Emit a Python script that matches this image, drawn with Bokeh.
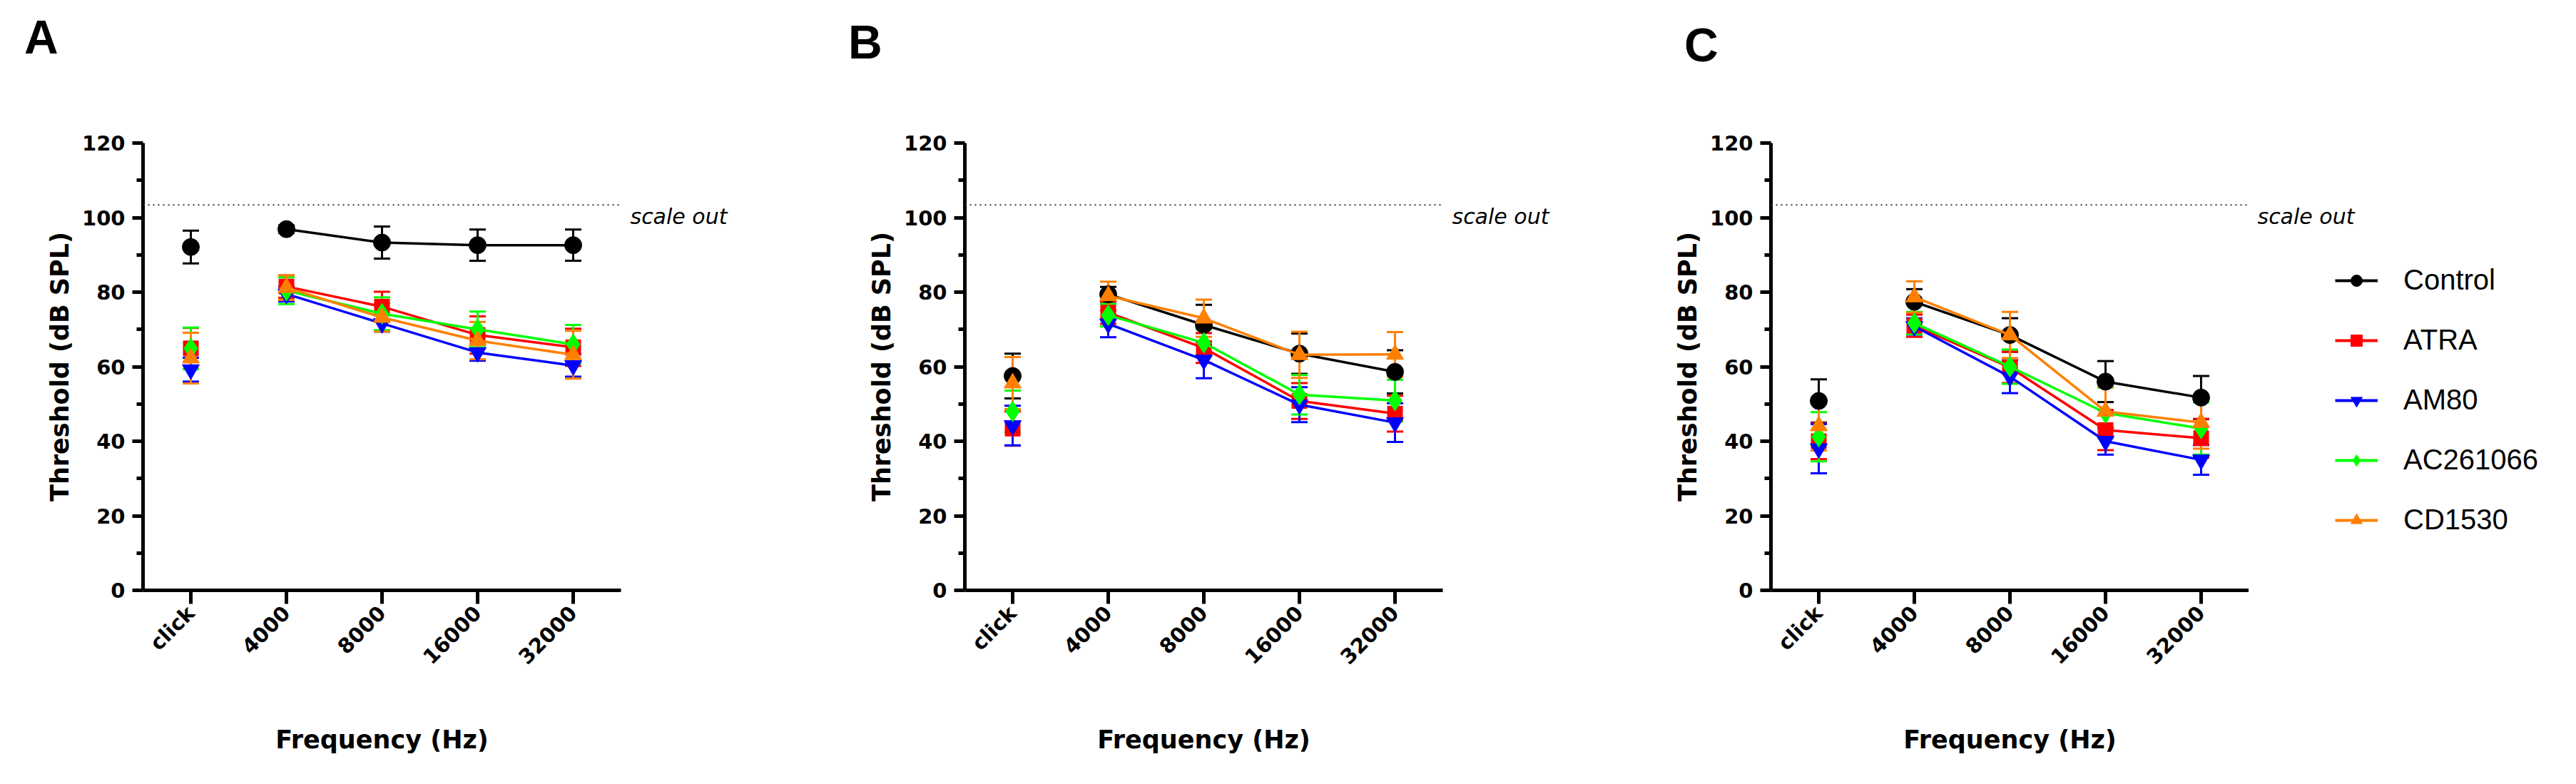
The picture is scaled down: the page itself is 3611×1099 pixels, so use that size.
import math
from bokeh.plotting import figure
from bokeh.models import (ColumnDataSource, Whisker, TeeHead, Span, Legend, Label, Div,
                          LegendItem, FixedTicker, FactorRange, Range1d, LinearAxis)
from bokeh.layouts import row, column
from bokeh.embed import file_html
from bokeh.resources import INLINE

# ---------------- data ----------------
categories = ["click", "4000", "8000", "16000", "32000"]
series_names = ["Control", "ATRA", "AM80", "AC261066", "CD1530"]
panel_letters = ["A", "B", "C"]
y_ticks = [0, 20, 40, 60, 80, 100, 120]
y_minor_ticks = [10, 30, 50, 70, 90, 110]
scale_out_level = 103.4
scale_out_text = "scale out"

# Panel A
A_control = [92.1, 96.9, 93.3, 92.6, 92.6]
A_control_err = [4.4, 1.0, 4.3, 4.2, 4.2]
A_atra = [64.9, 81.5, 76.1, 68.5, 65.2]
A_atra_err = [5.5, 3.0, 4.0, 5.0, 5.0]
A_am80 = [59.2, 79.5, 71.6, 63.8, 60.3]
A_am80_err = [3.2, 2.0, 2.2, 2.2, 3.0]
A_ac261066 = [64.9, 80.4, 74.2, 70.0, 66.0]
A_ac261066_err = [5.6, 3.6, 4.4, 4.8, 5.2]
A_cd1530 = [62.3, 81.2, 73.2, 67.0, 63.2]
A_cd1530_err = [6.8, 3.3, 3.8, 5.0, 6.4]

# Panel B
B_control = [57.5, 79.4, 71.2, 63.5, 58.6]
B_control_err = [6.0, 2.0, 5.4, 5.4, 5.8]
B_atra = [43.4, 74.5, 65.0, 50.8, 47.4]
B_atra_err = [4.6, 3.0, 4.0, 4.8, 4.8]
B_am80 = [44.2, 71.5, 61.8, 49.8, 45.0]
B_am80_err = [5.3, 3.6, 4.9, 4.7, 5.2]
B_ac261066 = [48.0, 73.8, 66.4, 52.5, 50.9]
B_ac261066_err = [5.6, 3.0, 3.6, 5.3, 5.6]
B_cd1530 = [55.6, 79.0, 73.0, 63.2, 63.3]
B_cd1530_err = [7.0, 3.8, 5.0, 6.2, 6.0]

# Panel C
C_control = [50.8, 77.4, 68.5, 56.0, 51.7]
C_control_err = [5.8, 3.4, 4.5, 5.5, 5.8]
C_atra = [40.0, 71.0, 59.8, 43.0, 40.8]
C_atra_err = [4.8, 3.0, 4.2, 5.4, 5.2]
C_am80 = [38.0, 70.8, 57.3, 40.0, 35.0]
C_am80_err = [6.6, 2.2, 4.4, 3.6, 4.0]
C_ac261066 = [41.2, 71.7, 60.0, 47.6, 43.4]
C_ac261066_err = [6.6, 3.0, 4.6, 6.8, 7.0]
C_cd1530 = [44.1, 78.7, 68.5, 48.0, 45.0]
C_cd1530_err = [6.6, 4.2, 6.2, 6.6, 7.0]

# ---------------- styles ----------------
colors = ["#000000", "#FF0000", "#0000FF", "#00FF00", "#FF8000"]
markers = ["circle", "square", "inverted_triangle", "diamond", "triangle"]
marker_sizes = [24, 21, 24, 29, 24]

TICK_FONT = "DejaVu Sans"
STRIP_H = 100
FRAME_W = 670
FRAME_H = 627
SCALE_OUT_TEXT_DROP = 3.2   # label sits just below the dotted line
SO_FONT_SIZE = "30px"


def style_fig(p):
    p.background_fill_color = "white"
    p.border_fill_color = "white"
    p.outline_line_color = None


def make_panel(border_right, means, errs, scale_out_axis=True):
    p = figure(frame_width=FRAME_W, frame_height=FRAME_H,
               x_range=FactorRange(factors=categories),
               y_range=Range1d(0, 120),
               output_backend="svg", toolbar_location=None,
               min_border_left=200, min_border_right=border_right,
               min_border_top=100, min_border_bottom=264)
    style_fig(p)
    p.xgrid.grid_line_color = None
    p.ygrid.grid_line_color = None

    # y axis
    yax = p.yaxis[0]
    yax.ticker = FixedTicker(ticks=y_ticks, minor_ticks=y_minor_ticks)
    yax.axis_line_width = 5
    yax.major_tick_line_width = 5
    yax.minor_tick_line_width = 5
    yax.major_tick_out = 15
    yax.major_tick_in = 0
    yax.minor_tick_out = 9
    yax.minor_tick_in = 0
    yax.major_label_standoff = 10
    yax.major_label_text_font = TICK_FONT
    yax.major_label_text_font_style = "bold"
    yax.major_label_text_font_size = "29px"
    yax.major_label_text_color = "black"
    yax.axis_label = "Threshold (dB SPL)"
    yax.axis_label_text_font = TICK_FONT
    yax.axis_label_text_font_style = "bold"
    yax.axis_label_text_font_size = "35px"
    yax.axis_label_text_color = "black"
    yax.axis_label_standoff = 8

    # x axis
    xax = p.xaxis[0]
    xax.axis_line_width = 5
    xax.major_tick_line_width = 5
    xax.major_tick_out = 19
    xax.major_tick_in = 0
    xax.major_label_orientation = math.pi / 4
    xax.major_label_standoff = 8
    xax.major_label_text_font = TICK_FONT
    xax.major_label_text_font_style = "bold"
    xax.major_label_text_font_size = "29px"
    xax.major_label_text_color = "black"
    xax.axis_label = "Frequency (Hz)"
    xax.axis_label_text_font = TICK_FONT
    xax.axis_label_text_font_style = "bold"
    xax.axis_label_text_font_size = "35px"
    xax.axis_label_text_color = "black"
    xax.axis_label_standoff = 64

    # scale-out dotted line
    p.add_layout(Span(location=scale_out_level, dimension="width",
                      line_color="#333333", line_width=2, line_dash="2 5"))
    if scale_out_axis:
        so_pos = scale_out_level - SCALE_OUT_TEXT_DROP
        so_axis = LinearAxis(ticker=FixedTicker(ticks=[so_pos]),
                             major_label_overrides={so_pos: scale_out_text},
                             axis_line_color=None, major_tick_line_color=None,
                             minor_tick_line_color=None, major_tick_in=0, major_tick_out=0,
                             major_label_standoff=13,
                             major_label_text_font="DejaVu Sans",
                             major_label_text_font_style="italic",
                             major_label_text_font_size=SO_FONT_SIZE,
                             major_label_text_color="black")
        p.add_layout(so_axis, "right")

    for name, m, e, c, mk, sz in zip(series_names, means, errs, colors, markers, marker_sizes):
        src = ColumnDataSource(dict(x=categories, y=m,
                                    upper=[a + b for a, b in zip(m, e)],
                                    lower=[a - b for a, b in zip(m, e)]))
        p.add_layout(Whisker(source=src, base="x", upper="upper", lower="lower",
                             line_color=c, line_width=3,
                             upper_head=TeeHead(size=23, line_color=c, line_width=3),
                             lower_head=TeeHead(size=23, line_color=c, line_width=3)))
        lsrc = ColumnDataSource(dict(x=categories[1:], y=m[1:]))
        p.line("x", "y", source=lsrc, line_color=c, line_width=3.5)
        p.scatter("x", "y", source=src, marker=mk, size=sz,
                  fill_color=c, line_color=c, line_width=1)
    return p


# ---- top strip with panel letters (HTML text) ----
letter_pos = [(34, 19), (1189, 26), (2361, 30)]
spans = "".join(
    f'<span style="position:absolute;left:{lx}px;top:{ty}px;font-family:\'Liberation Sans\';'
    f'font-weight:bold;font-size:66px;line-height:66px;color:black;">{letter}</span>'
    for letter, (lx, ty) in zip(panel_letters, letter_pos))
strip = Div(text=f'<div style="position:relative;width:3603px;height:{STRIP_H}px;">{spans}</div>',
            width=3603, height=STRIP_H, margin=0)

pA = make_panel(282,
                [A_control, A_atra, A_am80, A_ac261066, A_cd1530],
                [A_control_err, A_atra_err, A_am80_err, A_ac261066_err, A_cd1530_err])
pB = make_panel(260,
                [B_control, B_atra, B_am80, B_ac261066, B_cd1530],
                [B_control_err, B_atra_err, B_am80_err, B_ac261066_err, B_cd1530_err])
pC = make_panel(0,
                [C_control, C_atra, C_am80, C_ac261066, C_cd1530],
                [C_control_err, C_atra_err, C_am80_err, C_ac261066_err, C_cd1530_err],
                scale_out_axis=False)

# ---- legend figure (right of panel C); its frame lines up with the panels' frames ----
leg_fig = figure(width=451, height=STRIP_H + FRAME_H + 264,
                 x_range=Range1d(0, 1), y_range=Range1d(0, 1),
                 output_backend="svg", toolbar_location=None,
                 min_border_left=0, min_border_right=0, min_border_top=0, min_border_bottom=0)
style_fig(leg_fig)
leg_fig.axis.visible = False
leg_fig.grid.visible = False
leg_fig.add_layout(Label(x=12, y=524, x_units="screen", y_units="screen",
                         text=scale_out_text, text_font="DejaVu Sans",
                         text_font_style="italic", text_font_size=SO_FONT_SIZE,
                         text_color="black", text_baseline="alphabetic"))
items = []
for name, c, mk, sz in zip(series_names, colors, markers, marker_sizes):
    nan_src = ColumnDataSource(dict(x=[float("nan")], y=[float("nan")]))
    lr = leg_fig.line("x", "y", source=nan_src, line_color=c, line_width=4)
    sr = leg_fig.scatter("x", "y", source=nan_src, marker=mk, size=sz,
                         fill_color=c, line_color=c, line_width=1)
    items.append(LegendItem(label=name, renderers=[lr, sr]))
leg = Legend(items=items, location=(121, 76),
             glyph_width=60, glyph_height=40, label_height=40,
             label_standoff=36, spacing=39, padding=0, margin=0,
             label_text_font="Liberation Sans", label_text_font_size="40px",
             label_text_color="black", label_text_baseline="middle",
             border_line_color=None, background_fill_alpha=0)
leg_fig.add_layout(leg)

layout = column(strip, row(pA, pB, pC, leg_fig))
open("out.html", "w").write(file_html(layout, INLINE))
